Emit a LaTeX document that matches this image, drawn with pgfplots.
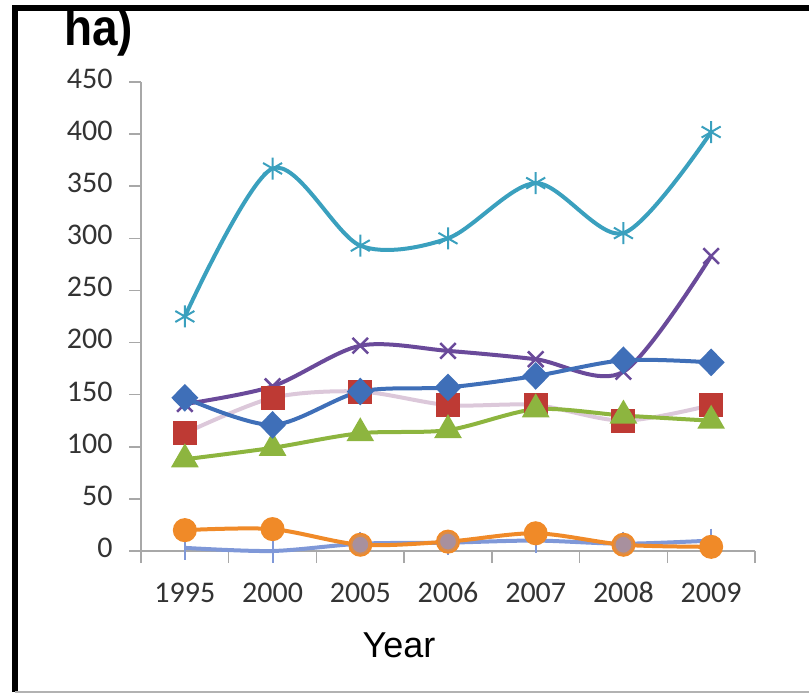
\documentclass[border=0pt]{standalone}
\usepackage{fontspec}
\setmainfont{Carlito}
\newfontfamily\arial{Liberation Sans}
\usepackage{pgfplots}
\pgfplotsset{compat=1.18}
\definecolor{cblue}{HTML}{3F6FB8}
\definecolor{cred}{HTML}{BE3A34}
\definecolor{cpink}{HTML}{DCC8DA}
\definecolor{cgreen}{HTML}{8DB53F}
\definecolor{cpurple}{HTML}{6A4A9A}
\definecolor{ccyan}{HTML}{3AA0BE}
\definecolor{corange}{HTML}{F08A28}
\definecolor{clblue}{HTML}{7F98D8}
\definecolor{cmauve}{HTML}{A8909E}
\definecolor{ctick}{HTML}{333333}
\definecolor{caxis}{HTML}{A8A8A8}
\begin{document}
\begin{tikzpicture}[x=1pt,y=1pt]
\useasboundingbox (0,0) rectangle (809,694);
\begin{axis}[
  at={(141pt,143pt)}, anchor=south west,
  scale only axis, width=614pt, height=469pt,
  xmin=-0.5, xmax=6.5, ymin=0, ymax=450,
  axis x line=bottom, axis y line=left,
  axis line style={-, draw=caxis, line width=1.5pt},
  tick align=outside,
  xtick={0,...,6},
  xticklabels={1995,2000,2005,2006,2007,2008,2009},
  minor xtick={-0.5,0.5,...,6.5},
  minor tick length=12pt,
  major tick length=12pt,
  tick style={draw=caxis, line width=1.5pt},
  major x tick style={draw=none},
  ytick={0,50,...,450},
  /pgf/number format/assume math mode=true,
  /pgf/number format/set thousands separator={},
  typeset ticklabels with strut,
  ticklabel style={font=\fontsize{30}{32}\selectfont, text=ctick},
  xticklabel style={yshift=-14pt},
  yticklabel style={xshift=-13pt},
  clip=false,
  every axis plot/.append style={line width=4pt, smooth, tension=0.5},
]
% light blue series
\addplot[color=clblue, mark=|, mark size=12pt, mark options={line width=2pt}]
  coordinates {(0,3) (1,0) (2,7) (3,8) (4,10) (5,7) (6,10)};
% orange series
\addplot[color=corange, mark=*, mark size=10pt, mark options={fill=corange, draw=corange}]
  coordinates {(0,20) (1,21) (2,6) (3,9) (4,17) (5,6) (6,4)};
\addplot[only marks, mark=*, mark size=9pt, mark options={fill=cmauve, draw=corange!70!cmauve, line width=2pt}]
  coordinates {(2,6) (3,9) (5,6)};
% purple series
\addplot[color=cpurple, mark=x, mark size=11pt, mark options={line width=2.5pt}]
  coordinates {(0,141) (1,158) (2,197) (3,192) (4,184) (5,172) (6,283)};
% red series
\addplot[color=cpink, mark=square*, mark size=10pt, mark options={fill=cred, draw=cred}]
  coordinates {(0,113) (1,147) (2,153) (3,140) (4,140) (5,125) (6,140)};
% green series
\addplot[color=cgreen, mark=triangle*, mark size=12pt, mark options={fill=cgreen, draw=cgreen}]
  coordinates {(0,88) (1,99) (2,113) (3,116) (4,136) (5,130) (6,125)};
% blue series
\addplot[color=cblue, mark=diamond*, mark size=11pt, mark options={xscale=1.3, fill=cblue, draw=cblue}]
  coordinates {(0,147) (1,121) (2,153) (3,157) (4,168) (5,183) (6,181)};
% cyan series
\addplot[color=ccyan, mark=asterisk, mark size=11pt, mark options={line width=2pt}]
  coordinates {(0,225) (1,367) (2,293) (3,300) (4,353) (5,305) (6,402)};
\end{axis}
\node[font=\arial\fontsize{36}{40}\selectfont] at (399,49) {Year};
\node[font=\arial\bfseries\fontsize{45}{48}\selectfont, anchor=west, inner sep=0pt] at (64,662) {\scalebox{1.02}[1.15]{ha)}};
\draw[line width=6pt] (15,2) -- (15,688);
\draw[line width=6pt] (12,686) -- (809,686);
\draw[line width=1.5pt, draw=gray!60] (15,2) -- (809,2);
\end{tikzpicture}
\end{document}
